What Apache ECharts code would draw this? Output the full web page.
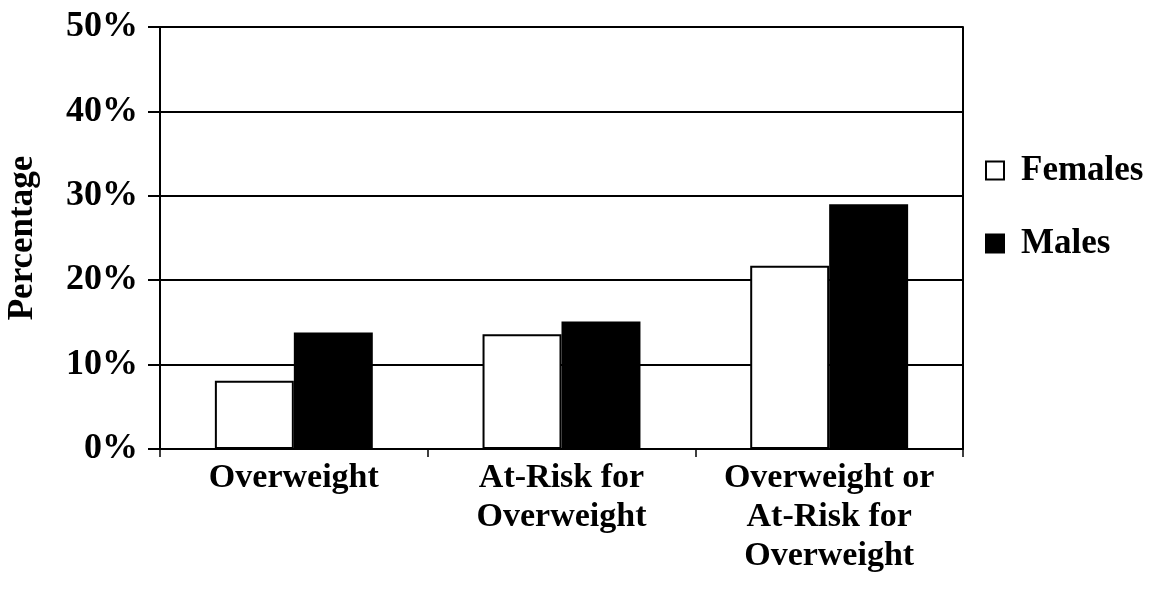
<!DOCTYPE html>
<html>
<head>
<meta charset="utf-8">
<script src="https://cdn.jsdelivr.net/npm/echarts@6/dist/echarts.min.js"></script>
<style>
  html, body { margin: 0; padding: 0; background: #fff; }
  #chart { width: 1154px; height: 610px; }
</style>
</head>
<body>
<div id="chart"></div>
<script>
// categories and values (percent)
var categories = ['Overweight', 'At-Risk for\nOverweight', 'Overweight or\nAt-Risk for\nOverweight'];
var females = [8.1, 13.6, 21.7];
var males = [13.8, 15.1, 29.0];
var yTicks = [0, 10, 20, 30, 40, 50];

var font = '"Liberation Serif", "Times New Roman", serif';
var chart = echarts.init(document.getElementById('chart'));

chart.setOption({
  animation: false,
  backgroundColor: '#fff',
  textStyle: { fontFamily: font, fontWeight: 'bold', color: '#000' },
  grid: { left: 160, right: 191, top: 27, bottom: 161, containLabel: false, outerBoundsMode: 'none' },
  legend: {
    orient: 'vertical',
    left: 980,
    top: 148,
    itemWidth: 18,
    itemHeight: 18,
    itemGap: 38,
    icon: 'rect',
    textStyle: { fontFamily: font, fontWeight: 'bold', fontSize: 35, color: '#000', padding: [0, 0, 0, 12] },
    data: ['Females', 'Males']
  },
  xAxis: {
    type: 'category',
    data: categories,
    axisLine: { lineStyle: { color: '#000', width: 2 } },
    axisTick: { show: true, length: 8, lineStyle: { color: '#000', width: 1.5 } },
    axisLabel: {
      interval: 0,
      hideOverlap: false,
      margin: 10,
      fontFamily: font, fontWeight: 'bold', fontSize: 34, lineHeight: 39, color: '#000'
    }
  },
  yAxis: [{
    type: 'value',
    min: yTicks[0],
    max: yTicks[yTicks.length - 1],
    interval: 10,
    name: 'Percentage',
    nameLocation: 'middle',
    nameGap: 120,
    nameTextStyle: { fontFamily: font, fontWeight: 'bold', fontSize: 35, color: '#000' },
    axisLine: { show: true, lineStyle: { color: '#000', width: 2 } },
    axisTick: { show: true, inside: false, length: 12, lineStyle: { color: '#000', width: 2 } },
    splitLine: { show: true, lineStyle: { color: '#000', width: 2 } },
    axisLabel: {
      margin: 22,
      formatter: '{value}%',
      fontFamily: font, fontWeight: 'bold', fontSize: 36, color: '#000'
    }
  }, {
    type: 'value',
    position: 'right',
    min: 0, max: 50, interval: 10,
    axisLine: { show: true, lineStyle: { color: '#000', width: 2 } },
    axisTick: { show: false },
    axisLabel: { show: false },
    splitLine: { show: false }
  }],
  series: [{
    name: 'Females',
    type: 'bar',
    data: females,
    barGap: '0%',
    barCategoryGap: '41%',
    itemStyle: { color: '#fff', borderColor: '#000', borderWidth: 2 }
  }, {
    name: 'Males',
    type: 'bar',
    data: males,
    itemStyle: { color: '#000', borderColor: '#000', borderWidth: 2 }
  }]
});
</script>
</body>
</html>
